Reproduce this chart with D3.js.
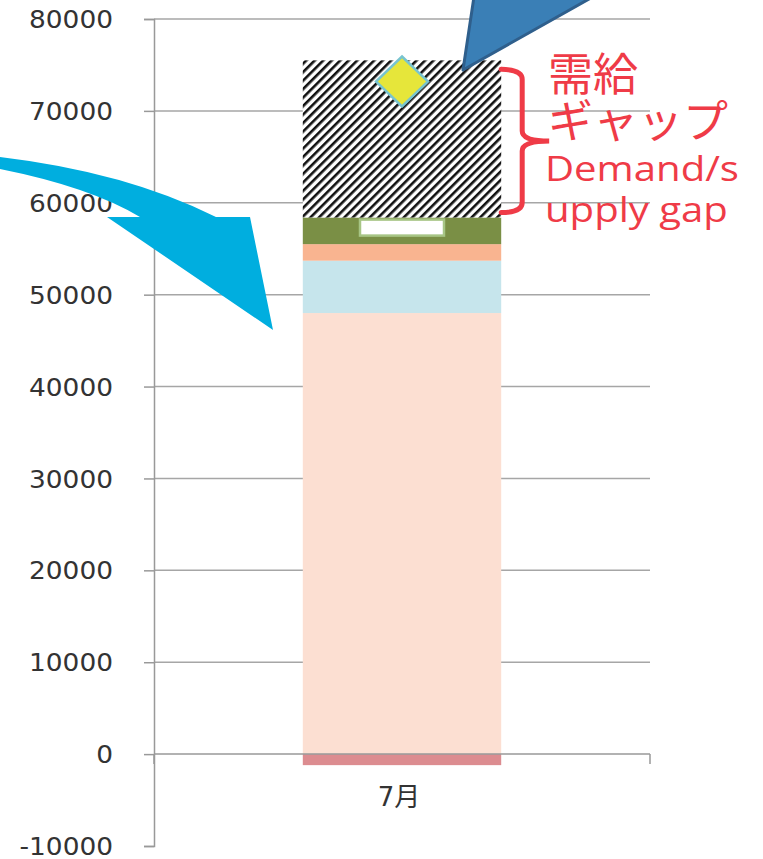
<!DOCTYPE html>
<html>
<head>
<meta charset="utf-8">
<script src="https://cdn.jsdelivr.net/npm/d3@7"></script>
<style>
  body { margin: 0; background: #fff; }
  svg { display: block; }
</style>
</head>
<body>
<div id="chart"></div>
<script>
// --- data ---
const categories = ["7月"];
const yTicks = [-10000, 0, 10000, 20000, 30000, 40000, 50000, 60000, 70000, 80000];
const negativeSeries = [-1200];          // below zero
const supplyBase = [48000];              // pale peach
const supplyBlue = [5700];               // light blue
const supplyOrange = [1800];             // orange
const supplyGreen = [2900];              // green
const gapSeries = [17100];               // hatched demand/supply gap
const markerRectSeries = [57300];        // white dash marker
const demandSeries = [73200];            // yellow diamond
const labelLines = ["需給", "ギャップ", "Demand/s", "upply gap"];

// --- layout ---
const W = 763, H = 859;
const svg = d3.select("#chart").append("svg")
    .attr("width", W).attr("height", H);

const y = d3.scaleLinear().domain([-10000, 80000]).range([846, 19]);
const x = d3.scaleBand().domain(categories).range([154, 650]);
const barW = x.bandwidth() * 0.4;
const barX = d => x(d) + (x.bandwidth() - barW) / 2;

// hatch pattern
const defs = svg.append("defs");
const pat = defs.append("pattern")
    .attr("id", "hatch")
    .attr("patternUnits", "userSpaceOnUse")
    .attr("width", 6).attr("height", 6)
    .attr("patternTransform", "rotate(45)");
pat.append("rect").attr("width", 6).attr("height", 6).attr("fill", "#fff");
pat.append("rect").attr("width", 2.6).attr("height", 6).attr("fill", "#111");

// gridlines
svg.append("g").selectAll("line")
    .data(yTicks.filter(t => t > -10000 && t !== 0))
    .join("line")
    .attr("x1", 154).attr("x2", 650)
    .attr("y1", d => y(d)).attr("y2", d => y(d))
    .attr("stroke", "#a6a6a6").attr("stroke-width", 1.5);

// stacked bars
const rows = categories.map((c, i) => ({
    cat: c,
    base: supplyBase[i], blue: supplyBlue[i], orange: supplyOrange[i],
    green: supplyGreen[i], gap: gapSeries[i]
}));
const keys = ["base", "blue", "orange", "green", "gap"];
const fills = { base: "#fcdfd2", blue: "#c6e5ec", orange: "#f9b490", green: "#7a8f45", gap: "url(#hatch)" };
const stacked = d3.stack().keys(keys)(rows);

svg.append("g").selectAll("g")
    .data(stacked)
    .join("g")
    .attr("fill", d => fills[d.key])
    .selectAll("rect")
    .data(d => d)
    .join("rect")
    .attr("x", d => barX(d.data.cat))
    .attr("y", d => y(d[1]))
    .attr("width", barW)
    .attr("height", d => y(d[0]) - y(d[1]));

// negative part
svg.append("g").selectAll("rect")
    .data(categories)
    .join("rect")
    .attr("x", d => barX(d))
    .attr("y", y(0))
    .attr("width", barW)
    .attr("height", (d, i) => y(negativeSeries[i]) - y(0))
    .attr("fill", "#dc8c90");

// white dash marker
svg.append("g").selectAll("rect")
    .data(categories)
    .join("rect")
    .attr("x", d => x(d) + x.bandwidth() / 2 - 42)
    .attr("y", (d, i) => y(markerRectSeries[i]) - 8)
    .attr("width", 84).attr("height", 16)
    .attr("fill", "#fff")
    .attr("stroke", "#a7c585").attr("stroke-width", 2.5);

// yellow diamond
svg.append("g").selectAll("path")
    .data(categories)
    .join("path")
    .attr("transform", (d, i) => `translate(${x(d) + x.bandwidth() / 2},${y(demandSeries[i])})`)
    .attr("d", "M0,-25L26,0L0,25L-26,0Z")
    .attr("fill", "#e6e63a")
    .attr("stroke", "#78c4cf").attr("stroke-width", 2.5);

// category axis at zero
const xAxis = svg.append("g");
xAxis.append("line")
    .attr("x1", 154).attr("x2", 650).attr("y1", y(0)).attr("y2", y(0))
    .attr("stroke", "#999").attr("stroke-width", 1.5);
xAxis.selectAll("line.tk")
    .data([154, 650])
    .join("line").attr("class", "tk")
    .attr("x1", d => d).attr("x2", d => d)
    .attr("y1", y(0)).attr("y2", y(0) + 10)
    .attr("stroke", "#999").attr("stroke-width", 1.5);
xAxis.selectAll("text")
    .data(categories)
    .join("text")
    .attr("x", d => x(d) + x.bandwidth() / 2 - 3)
    .attr("y", 806)
    .attr("text-anchor", "middle")
    .attr("font-family", "'DejaVu Sans', 'Noto Sans CJK JP', sans-serif")
    .attr("font-size", 26)
    .attr("fill", "#333")
    .text(d => d);

// value axis (plain hyphen for negatives, like the original)
const yAxis = svg.append("g")
    .attr("transform", "translate(154,0)")
    .call(d3.axisLeft(y).tickValues(yTicks).tickSize(10).tickPadding(8).tickFormat(d => String(d)));
yAxis.select(".domain").attr("stroke", "#999").attr("stroke-width", 1.5);
yAxis.selectAll(".tick line").attr("stroke", "#999").attr("stroke-width", 1.5);
yAxis.selectAll(".tick text")
    .attr("x", 0)
    .attr("dy", "0.36em")
    .attr("transform", "translate(-41,0) scale(1.1,1)")
    .attr("font-family", "'DejaVu Sans', sans-serif")
    .attr("font-size", 24)
    .attr("fill", "#333");

// --- annotations ---
// cyan curved arrow
svg.append("path")
    .attr("d", "M0,157 Q126,172 216,217 L250,217 L273,330 L107,217 L140,217 Q90,187 0,169 Z")
    .attr("fill", "#00aedf");

// dark blue callout pointer
svg.append("path")
    .attr("d", "M463,70 L475,-10 L605,-10 Z")
    .attr("fill", "#3a7fb6")
    .attr("stroke", "#2f5f8c").attr("stroke-width", 3)
    .attr("stroke-linejoin", "round");

// red brace beside the gap
const bx = barX(categories[0]) + barW;
const gTop = y(supplyBase[0] + supplyBlue[0] + supplyOrange[0] + supplyGreen[0] + gapSeries[0]) + 9;
const gBot = y(supplyBase[0] + supplyBlue[0] + supplyOrange[0] + supplyGreen[0]) - 5;
const gMid = (gTop + gBot) / 2;
svg.append("path")
    .attr("d", `M${bx},${gTop} Q${bx + 21},${gTop} ${bx + 21},${gTop + 10} L${bx + 21},${gMid - 10} Q${bx + 21},${gMid} ${bx + 48},${gMid}
                Q${bx + 21},${gMid} ${bx + 21},${gMid + 10} L${bx + 21},${gBot - 10} Q${bx + 21},${gBot} ${bx},${gBot}`)
    .attr("fill", "none")
    .attr("stroke", "#ef3b47").attr("stroke-width", 5)
    .attr("stroke-linecap", "round");

const label = svg.append("g").attr("fill", "#ef3b47");
label.append("text").attr("x", 548).attr("y", 91)
    .attr("font-family", "'Noto Sans CJK JP', sans-serif").attr("font-size", 45)
    .text(labelLines[0]);
label.append("text").attr("x", 548).attr("y", 138)
    .attr("font-family", "'Noto Sans CJK JP', sans-serif").attr("font-size", 45)
    .text(labelLines[1]);
label.append("text")
    .attr("transform", "translate(545,181) scale(1.18,1)")
    .attr("font-family", "'Open Sans', sans-serif").attr("font-size", 34)
    .text(labelLines[2]);
label.append("text")
    .attr("transform", "translate(545,222) scale(1.18,1)")
    .attr("font-family", "'Open Sans', sans-serif").attr("font-size", 34)
    .text(labelLines[3]);
</script>
</body>
</html>
